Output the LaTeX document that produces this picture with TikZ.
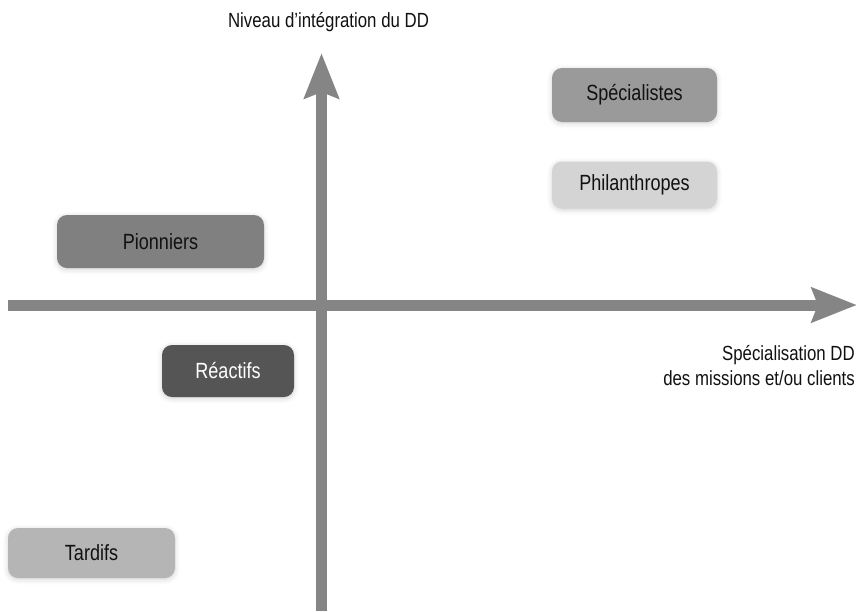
\documentclass[tikz,border=0pt]{standalone}
\usepackage{fontspec}
\setmainfont{Liberation Sans}[FakeStretch=0.82]
\usetikzlibrary{arrows.meta,shadows.blur}
\definecolor{axisgray}{HTML}{858585}
\definecolor{cSpec}{HTML}{9A9A9A}
\definecolor{cPhil}{HTML}{D4D4D4}
\definecolor{cPion}{HTML}{808080}
\definecolor{cReac}{HTML}{555555}
\definecolor{cTard}{HTML}{B5B5B5}
\definecolor{txt}{HTML}{111111}
\tikzset{
  box/.style={rounded corners=10pt, inner sep=0pt, font=\fontsize{22}{26}\selectfont, text=txt,
    blur shadow={shadow xshift=0pt, shadow yshift=-1.5pt, shadow blur radius=5pt, shadow opacity=18}},
  axisline/.style={draw=axisgray, line width=11pt, -{Stealth[length=45pt,width=34pt,inset=6pt]}},
  axislabel/.style={font=\fontsize{20.5}{24}\selectfont, text=txt, inner sep=0pt}
}
\begin{document}
\begin{tikzpicture}[x=1pt,y=-1pt]
\useasboundingbox (0,0) rectangle (860,611);
% axes
\coordinate (vb) at (321.5,611);
\coordinate (vt) at (321.5,53);
\coordinate (hl) at (8,305);
\coordinate (hr) at (857,305);
\draw[axisline] (vb) -- (vt);
\draw[axisline] (hl) -- (hr);
% boxes
\node[box, fill=cSpec, minimum width=165pt, minimum height=54pt] (spec) at (634.5,95) {Spécialistes};
\node[box, fill=cPhil, minimum width=165pt, minimum height=47pt] (phil) at (634.5,185) {Philanthropes};
\node[box, fill=cPion, minimum width=207pt, minimum height=53pt] (pion) at (160.5,241.5) {Pionniers};
\node[box, fill=cReac, minimum width=132pt, minimum height=52pt, text=white] (reac) at (228,371) {Réactifs};
\node[box, fill=cTard, minimum width=167pt, minimum height=50pt] (tard) at (91.5,553) {Tardifs};
% labels
\node[axislabel, anchor=base] (ylab) at (328.5,27) {Niveau d’intégration du DD};
\node[axislabel, anchor=base east] (xlab1) at (855,360) {Spécialisation DD};
\node[axislabel, anchor=base east] (xlab2) at (855,385) {des missions et/ou clients};
\end{tikzpicture}
\end{document}
